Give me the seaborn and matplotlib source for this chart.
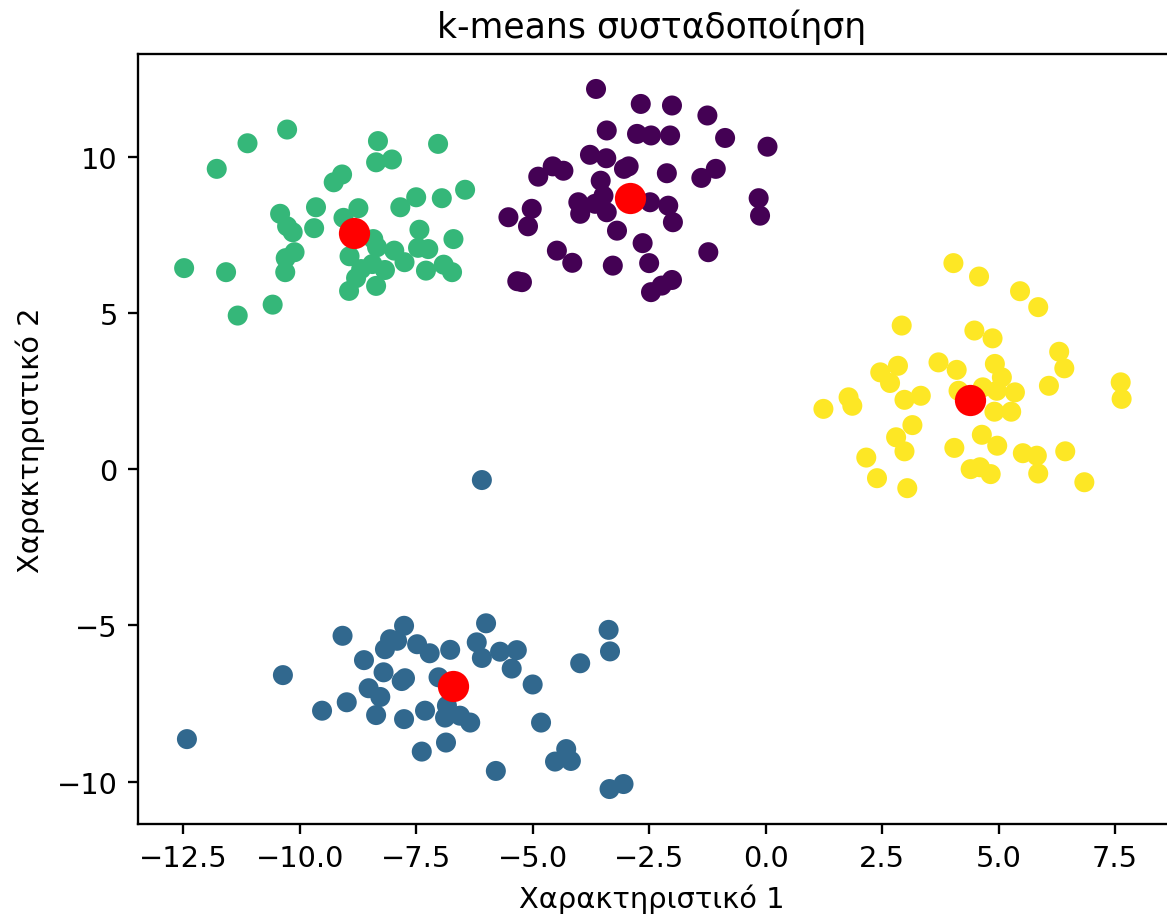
import numpy as np
import pandas as pd
import matplotlib
matplotlib.use("Agg")
import matplotlib.pyplot as plt
import seaborn as sns

# Cluster 0 (purple)
c0_x = [-3.64, -2.68, -2.01, -1.25, -3.41, -2.76, -2.46, -2.05, -0.87, 0.04,
        -3.77, -3.42, -2.94, -3.04, -4.57, -4.34, -4.88, -2.12, -1.07, -1.38,
        -3.54, -4.02, -3.98, -3.66, -3.48, -3.41, -2.48, -2.09, -1.99, -0.15,
        -0.12, -5.52, -5.02, -5.10, -3.19, -2.64, -4.48, -4.15, -3.28, -2.50,
        -1.23, -5.23, -5.33, -2.46, -2.23, -2.01]
c0_y = [12.19, 11.71, 11.66, 11.34, 10.86, 10.75, 10.70, 10.70, 10.62, 10.34,
        10.08, 9.97, 9.71, 9.63, 9.71, 9.57, 9.38, 9.49, 9.63, 9.34,
        9.25, 8.56, 8.19, 8.51, 8.77, 8.24, 8.56, 8.45, 7.92, 8.69,
        8.13, 8.08, 8.35, 7.79, 7.65, 7.25, 7.01, 6.62, 6.53, 6.61,
        6.96, 6.00, 6.03, 5.68, 5.89, 6.07]

# Cluster 1 (blue)
c1_x = [-6.09, -9.08, -7.76, -8.06, -8.17, -7.91, -7.48, -7.21, -6.77, -6.00,
        -6.20, -6.09, -5.70, -5.34, -5.45, -3.37, -3.34, -3.98, -8.62, -8.20,
        -7.74, -7.81, -10.36, -7.02, -5.00, -8.52, -8.27, -8.99, -9.52, -8.36,
        -7.76, -7.31, -6.88, -6.56, -6.34, -6.84, -4.82, -6.86, -7.38, -5.79,
        -4.52, -4.28, -4.18, -12.42, -3.35, -3.05]
c1_y = [-0.34, -5.33, -5.01, -5.44, -5.76, -5.49, -5.60, -5.89, -5.78, -4.93,
        -5.54, -6.04, -5.84, -5.79, -6.38, -5.14, -5.83, -6.21, -6.11, -6.50,
        -6.69, -6.78, -6.59, -6.66, -6.89, -7.01, -7.29, -7.46, -7.73, -7.87,
        -8.00, -7.73, -7.95, -7.89, -8.11, -7.57, -8.11, -8.75, -9.04, -9.66,
        -9.36, -8.96, -9.34, -8.64, -10.24, -10.08]

# Cluster 2 (green)
c2_x = [-10.27, -11.12, -11.78, -8.32, -7.03, -8.36, -8.02, -9.09, -9.27, -6.45,
        -6.95, -7.50, -7.84, -9.65, -10.42, -8.74, -9.06, -10.27, -10.15, -9.69,
        -6.70, -7.43, -8.42, -8.34, -7.97, -7.75, -7.46, -7.24, -10.11, -10.30,
        -8.93, -10.31, -12.48, -11.58, -8.68, -8.44, -8.17, -8.79, -8.94, -8.36,
        -7.29, -6.91, -6.73, -10.58, -11.33]
c2_y = [10.89, 10.45, 9.63, 10.52, 10.43, 9.84, 9.93, 9.45, 9.20, 8.96,
        8.69, 8.72, 8.40, 8.40, 8.19, 8.37, 8.06, 7.79, 7.60, 7.73,
        7.38, 7.68, 7.38, 7.12, 7.01, 6.64, 7.10, 7.06, 6.96, 6.77,
        6.83, 6.32, 6.45, 6.32, 6.42, 6.58, 6.39, 6.13, 5.72, 5.88,
        6.37, 6.56, 6.32, 5.28, 4.93]

# Cluster 3 (yellow)
c3_x = [4.03, 4.58, 5.46, 5.85, 2.92, 4.48, 4.87, 6.30, 6.41, 3.71,
        4.10, 2.46, 2.84, 2.67, 4.92, 5.07, 4.66, 4.96, 5.35, 4.14,
        6.08, 7.62, 7.64, 1.78, 1.86, 1.24, 2.98, 3.33, 4.91, 5.27,
        3.15, 2.80, 2.98, 4.64, 4.97, 4.05, 5.52, 5.82, 6.43, 2.16,
        4.40, 4.60, 4.83, 5.85, 2.39, 3.04, 6.84]
c3_y = [6.61, 6.18, 5.71, 5.20, 4.61, 4.45, 4.20, 3.77, 3.24, 3.43,
        3.19, 3.11, 3.32, 2.77, 3.38, 2.95, 2.63, 2.52, 2.47, 2.52,
        2.68, 2.79, 2.26, 2.31, 2.04, 1.94, 2.23, 2.36, 1.85, 1.85,
        1.42, 1.03, 0.58, 1.11, 0.76, 0.69, 0.52, 0.44, 0.58, 0.38,
        0.01, 0.07, -0.15, -0.13, -0.28, -0.60, -0.41]

# Cluster centres
centre_x = [-2.92, -6.72, -8.83, 4.39]
centre_y = [8.69, -6.94, 7.58, 2.22]

title = "k-means συσταδοποίηση"
x_label = "Χαρακτηριστικό 1"
y_label = "Χαρακτηριστικό 2"

xs = [c0_x, c1_x, c2_x, c3_x]
ys = [c0_y, c1_y, c2_y, c3_y]
points = pd.concat(
    [pd.DataFrame({"x": cx, "y": cy, "cluster": k})
     for k, (cx, cy) in enumerate(zip(xs, ys))],
    ignore_index=True,
)

viridis = matplotlib.colormaps["viridis"]
palette = {k: viridis(k / 3) for k in range(4)}

dpi = 208
fig = plt.figure(figsize=(1167 / dpi, 917 / dpi), dpi=dpi)
# axes run a little past the right edge of the canvas
ax_w = 1040
ax = fig.add_axes([138 / 1167, 92 / 917, ax_w / 1167, 770 / 917])

sns.scatterplot(data=points, x="x", y="y", hue="cluster", palette=palette,
                s=48, linewidth=0, legend=False, ax=ax)
sns.scatterplot(x=centre_x, y=centre_y, color="red", s=117, linewidth=0, ax=ax)

ax.set_xlim(-13.47, 8.85)
ax.set_ylim(-11.36, 13.31)
centre_frac = (652 - 138) / ax_w
ax.set_title(title, fontsize=12, x=centre_frac)
ax.set_xlabel(x_label, fontsize=10, x=centre_frac)
ax.set_ylabel(y_label, fontsize=10)
ax.tick_params(labelsize=10)

fig.savefig("out.png", dpi=dpi)
